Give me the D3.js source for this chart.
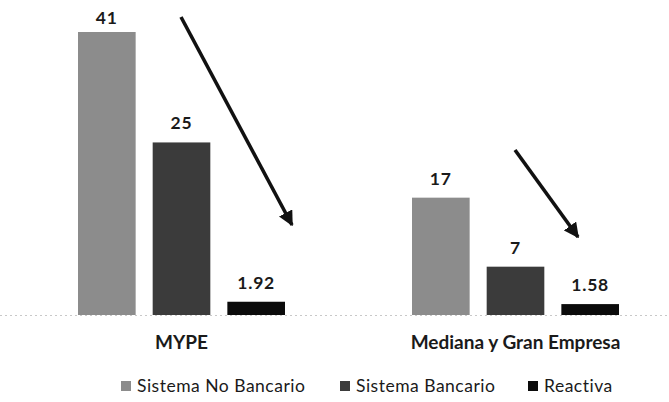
<!DOCTYPE html>
<html><head><meta charset="utf-8">
<script src="https://cdn.jsdelivr.net/npm/d3@7"></script>
<style>body{margin:0;background:#fff}svg{display:block}</style>
</head><body>
<script>
const categories = ["MYPE", "Mediana y Gran Empresa"];
const series = ["Sistema No Bancario", "Sistema Bancario", "Reactiva"];
const noBancario = [41, 17];
const bancario = [25, 7];
const reactiva = [1.92, 1.58];
const valueLabels = [["41", "25", "1.92"], ["17", "7", "1.58"]];
const colors = ["#8c8c8c", "#3b3b3b", "#0b0b0b"];

const W = 669, H = 402;
const svg = d3.select("body").append("svg").attr("width", W).attr("height", H);
const defs = svg.append("defs");
defs.append("marker").attr("id", "ah").attr("viewBox", "0 0 10 10")
  .attr("refX", 9).attr("refY", 5).attr("markerWidth", 4.2).attr("markerHeight", 4.2)
  .attr("orient", "auto").attr("markerUnits", "strokeWidth")
  .append("path").attr("d", "M0,0L10,5L0,10z").attr("fill", "#111");

const baseY = 315;
const y = d3.scaleLinear().domain([0, 41]).range([baseY, 32]);
const x0 = d3.scaleBand().domain(categories).range([14.5, 682.5]).padding(0);
const x1 = d3.scaleBand().domain(series).range([0, 207]).paddingInner(0.228).paddingOuter(0);

// baseline (faint dotted)
svg.append("line").attr("x1", 0).attr("x2", W).attr("y1", baseY + 0.5).attr("y2", baseY + 0.5)
  .attr("stroke", "#c8c8c8").attr("stroke-width", 1).attr("stroke-dasharray", "2,3");

const data = categories.map((c, i) => ({cat: c, vals: [noBancario[i], bancario[i], reactiva[i]], labels: valueLabels[i]}));

const g = svg.selectAll("g.grp").data(data).enter().append("g")
  .attr("transform", d => `translate(${x0(d.cat) + x0.bandwidth() / 2 - 103.5},0)`);

g.selectAll("rect").data(d => d.vals.map((v, j) => ({s: series[j], v, j}))).enter().append("rect")
  .attr("x", d => x1(d.s)).attr("width", x1.bandwidth())
  .attr("y", d => y(d.v)).attr("height", d => baseY - y(d.v))
  .attr("fill", d => colors[d.j]);

g.selectAll("text.val").data(d => d.vals.map((v, j) => ({s: series[j], v, j, l: d.labels[j]}))).enter().append("text")
  .attr("class", "val")
  .attr("x", d => x1(d.s) + x1.bandwidth() / 2)
  .attr("y", d => Math.max(y(d.v) - 13, 24))
  .attr("text-anchor", "middle")
  .attr("font-family", "Lato, 'Open Sans', sans-serif").attr("font-weight", "bold")
  .attr("font-size", 17.5).attr("letter-spacing", 0.8).attr("fill", "#1a1a1a")
  .text(d => d.l);

// category labels
svg.selectAll("text.cat").data(categories).enter().append("text")
  .attr("x", d => x0(d) + x0.bandwidth() / 2).attr("y", 349)
  .attr("text-anchor", "middle")
  .attr("font-family", "Lato, 'Open Sans', sans-serif").attr("font-weight", "bold")
  .attr("font-size", 19).attr("fill", "#1a1a1a")
  .text(d => d);

// arrows
const arrows = [[181, 17, 292, 225], [515, 150, 578, 237]];
svg.selectAll("line.arr").data(arrows).enter().append("line")
  .attr("x1", d => d[0]).attr("y1", d => d[1]).attr("x2", d => d[2]).attr("y2", d => d[3])
  .attr("stroke", "#111").attr("stroke-width", 3.6).attr("marker-end", "url(#ah)");

// legend
const legX = [121, 340, 528];
const leg = svg.selectAll("g.leg").data(series).enter().append("g")
  .attr("transform", (d, i) => `translate(${legX[i]},0)`);
leg.append("rect").attr("x", 0).attr("y", 381).attr("width", 10).attr("height", 10)
  .attr("fill", (d, i) => colors[i]);
leg.append("text").attr("x", 16).attr("y", 392)
  .attr("font-family", "Lato, 'Open Sans', sans-serif").attr("font-size", 17.5)
  .attr("letter-spacing", 0.5).attr("fill", "#1a1a1a")
  .text(d => d);
</script>
</body></html>
